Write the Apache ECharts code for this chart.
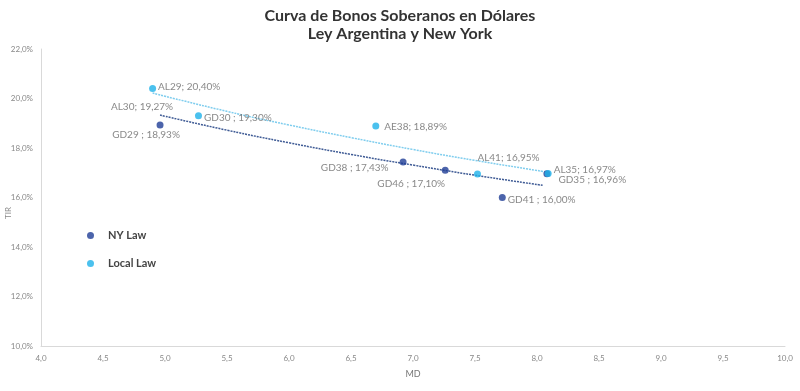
<!DOCTYPE html>
<html><head><meta charset="utf-8">
<script src="https://cdn.jsdelivr.net/npm/echarts@6/dist/echarts.min.js"></script>
<style>html,body{margin:0;padding:0;background:#fff}#c{width:800px;height:391px}</style>
</head><body><div id="c"></div>
<script>
// NY Law bonds
const nyNames = ['GD29', 'GD38', 'GD46', 'GD41', 'GD35'];
const nyMD    = [4.96, 6.92, 7.26, 7.72, 8.08];
const nyTIR   = [18.93, 17.43, 17.10, 16.00, 16.96];
// Local Law bonds
const localNames = ['AL29', 'AL30', 'GD30', 'AE38', 'AL41', 'AL35'];
const localMD    = [4.90, 4.96, 5.27, 6.70, 7.52, 8.09];
const localTIR   = [20.40, 19.27, 19.30, 18.89, 16.95, 16.97];
// Trendlines
const nyTrendMD  = [4.96, 5.5, 6.0, 6.5, 7.0, 7.5, 8.05];
const nyTrendTIR = [19.33, 18.72, 18.21, 17.74, 17.31, 16.90, 16.49];
const localTrendMD  = [4.90, 5.5, 6.0, 6.5, 7.0, 7.5, 8.08];
const localTrendTIR = [20.22, 19.48, 18.93, 18.42, 17.94, 17.50, 17.03];
// Axis ticks
const xMin = 4, xMax = 10, xStep = 0.5;
const yMin = 10, yMax = 22, yStep = 2;

const NY_COLOR = '#1f3d96';
const LOCAL_COLOR = '#1eb2ea';
const FONT = 'Lato, "Noto Sans", sans-serif';

const labelCfg = {
  AL29: {position: 'right', distance: 2, offset: [0, -2]},
  AL30: {position: 'top', distance: 1, offset: [-18, 0]},
  GD29: {position: 'bottom', distance: 1, offset: [-14, 0]},
  GD30: {position: 'right', distance: 2, offset: [0, 2]},
  AE38: {position: 'right', distance: 5, offset: [0, 1]},
  GD38: {position: 'left', distance: 11, offset: [0, 6]},
  GD46: {position: 'bottom', distance: 1, offset: [-34, 4]},
  AL41: {position: 'top', distance: 1, offset: [31, -7]},
  AL35: {position: 'right', distance: 2, offset: [0, -4]},
  GD35: {position: 'right', distance: 8, offset: [0, 6]},
  GD41: {position: 'right', distance: 2, offset: [0, 2]}
};
const fmtPct = v => v.toFixed(2).replace('.', ',') + '%';
function buildPoints(names, xs, ys, hidden) {
  return names.map((n, i) => {
    const sep = n.startsWith('GD') ? ' ; ' : '; ';
    const d = {
      name: n, value: [xs[i], ys[i]],
      label: Object.assign({show: true, formatter: n + sep + fmtPct(ys[i])}, labelCfg[n])
    };
    if (hidden.indexOf(n) >= 0) { d.itemStyle = {color: 'rgba(0,0,0,0)'}; }
    return d;
  });
}
const labelStyle = {color: '#6a6a6a', fontSize: 10, fontFamily: FONT};

const chart = echarts.init(document.getElementById('c'));
chart.setOption({
  animation: false,
  backgroundColor: '#fff',
  title: {
    text: 'Curva de Bonos Soberanos en Dólares\nLey Argentina y New York',
    left: 'center', top: 2,
    textStyle: {fontFamily: FONT, fontSize: 16, fontWeight: 'bold', color: '#333', lineHeight: 18}
  },
  graphic: [{
    type: 'text', left: 4, top: 207, rotation: Math.PI / 2,
    style: {text: 'TIR', fill: '#888', font: '8px ' + FONT}
  }],
  legend: {
    data: ['NY Law', 'Local Law'],
    orient: 'vertical', left: 82, top: 225, itemGap: 17,
    icon: 'circle', itemWidth: 7, itemHeight: 7,
    textStyle: {fontFamily: FONT, fontSize: 11, fontWeight: 'bold', color: '#444', padding: [0, 0, 0, 9]}
  },
  grid: {left: 41, right: 15, top: 49, bottom: 45, containLabel: false, outerBoundsMode: 'none'},
  xAxis: {
    type: 'value', min: xMin, max: xMax, interval: xStep,
    name: 'MD', nameLocation: 'middle', nameGap: 24,
    nameTextStyle: {fontFamily: FONT, fontSize: 9, color: '#777'},
    axisLine: {lineStyle: {color: '#d9d9d9'}},
    axisTick: {show: false},
    splitLine: {show: false},
    axisLabel: {fontFamily: FONT, fontSize: 8, color: '#888', margin: 8,
      formatter: v => v.toFixed(1).replace('.', ',')}
  },
  yAxis: {
    type: 'value', min: yMin, max: yMax, interval: yStep,
    axisLine: {show: true, lineStyle: {color: '#d9d9d9'}},
    axisTick: {show: false},
    splitLine: {show: false},
    axisLabel: {fontFamily: FONT, fontSize: 8, color: '#888', margin: 8,
      formatter: v => v.toFixed(1).replace('.', ',') + '%'}
  },
  series: [
    {
      name: 'NY trend', type: 'line', smooth: true, showSymbol: false, silent: true,
      data: nyTrendMD.map((x, i) => [x, nyTrendTIR[i]]),
      lineStyle: {color: '#3f5b95', width: 1.5, type: [2, 1]}, z: 1
    },
    {
      name: 'Local trend', type: 'line', smooth: true, showSymbol: false, silent: true,
      data: localTrendMD.map((x, i) => [x, localTrendTIR[i]]),
      lineStyle: {color: '#7fcdee', width: 1.5, type: [2, 1]}, z: 1
    },
    {
      name: 'NY Law', type: 'scatter', symbolSize: 7,
      itemStyle: {color: NY_COLOR},
      label: labelStyle,
      data: buildPoints(nyNames, nyMD, nyTIR, []), z: 3
    },
    {
      name: 'Local Law', type: 'scatter', symbolSize: 7,
      itemStyle: {color: LOCAL_COLOR},
      label: labelStyle,
      data: buildPoints(localNames, localMD, localTIR, ['AL30']), z: 4
    }
  ]
});
</script></body></html>
